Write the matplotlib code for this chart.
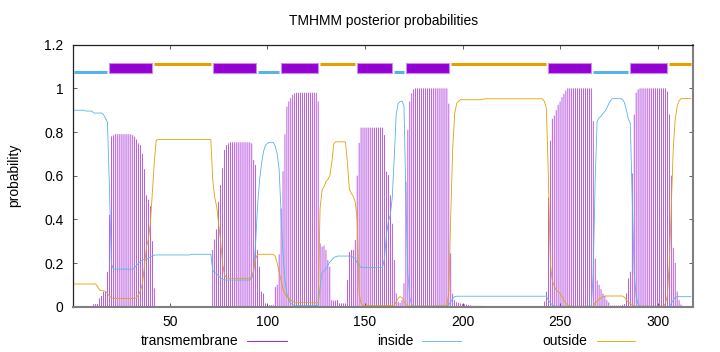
import matplotlib
matplotlib.use("Agg")
import matplotlib.pyplot as plt
import numpy as np
from matplotlib.patches import Rectangle
from matplotlib.lines import Line2D

# posterior probabilities per residue (1..317)
inside = [
    0.900, 0.900, 0.900, 0.900, 0.900, 0.900, 0.896, 0.896, 0.896, 0.896,
    0.887, 0.887, 0.887, 0.887, 0.887, 0.880, 0.862, 0.845, 0.550, 0.200,
    0.172, 0.172, 0.172, 0.172, 0.172, 0.172, 0.172, 0.172, 0.172, 0.172,
    0.172, 0.180, 0.190, 0.200, 0.208, 0.214, 0.216, 0.218, 0.222, 0.228,
    0.233, 0.236, 0.237, 0.237, 0.237, 0.237, 0.237, 0.237, 0.237, 0.237,
    0.237, 0.237, 0.237, 0.237, 0.237, 0.237, 0.237, 0.237, 0.237, 0.237,
    0.240, 0.240, 0.240, 0.240, 0.240, 0.240, 0.240, 0.240, 0.240, 0.240,
    0.240, 0.165, 0.155, 0.152, 0.140, 0.132, 0.125, 0.122, 0.122, 0.122,
    0.122, 0.122, 0.122, 0.122, 0.122, 0.122, 0.122, 0.122, 0.122, 0.122,
    0.122, 0.130, 0.160, 0.300, 0.470, 0.580, 0.656, 0.710, 0.740, 0.748,
    0.753, 0.753, 0.753, 0.735, 0.700, 0.630, 0.430, 0.245, 0.120, 0.060,
    0.030, 0.015, 0.010, 0.005, 0.005, 0.005, 0.005, 0.005, 0.005, 0.005,
    0.005, 0.005, 0.005, 0.005, 0.005, 0.005, 0.090, 0.156, 0.165, 0.172,
    0.190, 0.205, 0.214, 0.225, 0.229, 0.232, 0.232, 0.232, 0.232, 0.232,
    0.232, 0.232, 0.232, 0.225, 0.221, 0.200, 0.190, 0.180, 0.180, 0.180,
    0.180, 0.180, 0.180, 0.180, 0.180, 0.180, 0.180, 0.180, 0.180, 0.220,
    0.330, 0.390, 0.420, 0.500, 0.680, 0.880, 0.930, 0.940, 0.942, 0.920,
    0.500, 0.150, 0.040, 0.010, 0.003, 0.003, 0.003, 0.003, 0.003, 0.003,
    0.003, 0.003, 0.003, 0.003, 0.003, 0.003, 0.003, 0.003, 0.003, 0.003,
    0.003, 0.003, 0.010, 0.023, 0.038, 0.046, 0.048, 0.048, 0.048, 0.048,
    0.048, 0.048, 0.048, 0.048, 0.048, 0.048, 0.048, 0.048, 0.048, 0.048,
    0.048, 0.048, 0.048, 0.048, 0.048, 0.048, 0.048, 0.048, 0.048, 0.048,
    0.048, 0.048, 0.048, 0.048, 0.048, 0.048, 0.048, 0.048, 0.048, 0.048,
    0.048, 0.048, 0.048, 0.048, 0.048, 0.048, 0.048, 0.048, 0.048, 0.048,
    0.048, 0.048, 0.048, 0.030, 0.018, 0.008, 0.002, 0.002, 0.002, 0.002,
    0.002, 0.002, 0.002, 0.002, 0.002, 0.002, 0.002, 0.002, 0.002, 0.002,
    0.002, 0.002, 0.002, 0.002, 0.002, 0.002, 0.150, 0.580, 0.850, 0.865,
    0.872, 0.885, 0.895, 0.910, 0.930, 0.945, 0.953, 0.953, 0.953, 0.953,
    0.953, 0.950, 0.935, 0.900, 0.860, 0.840, 0.500, 0.153, 0.046, 0.012,
    0.002, 0.002, 0.002, 0.002, 0.002, 0.002, 0.002, 0.002, 0.002, 0.002,
    0.002, 0.002, 0.002, 0.002, 0.002, 0.002, 0.015, 0.030, 0.042, 0.046,
    0.046, 0.046, 0.046, 0.046, 0.046, 0.046, 0.046,
]

outside = [
    0.104, 0.104, 0.104, 0.104, 0.104, 0.104, 0.104, 0.104, 0.104, 0.104,
    0.104, 0.104, 0.090, 0.076, 0.073, 0.073, 0.070, 0.061, 0.048, 0.041,
    0.038, 0.038, 0.038, 0.038, 0.038, 0.038, 0.038, 0.038, 0.038, 0.038,
    0.038, 0.038, 0.044, 0.055, 0.075, 0.110, 0.190, 0.275, 0.310, 0.380,
    0.520, 0.660, 0.762, 0.766, 0.766, 0.766, 0.766, 0.766, 0.766, 0.766,
    0.766, 0.766, 0.766, 0.766, 0.766, 0.766, 0.766, 0.766, 0.766, 0.766,
    0.766, 0.766, 0.766, 0.766, 0.766, 0.766, 0.766, 0.766, 0.766, 0.766,
    0.766, 0.580, 0.500, 0.458, 0.380, 0.300, 0.200, 0.145, 0.134, 0.130,
    0.130, 0.130, 0.130, 0.130, 0.130, 0.130, 0.130, 0.130, 0.130, 0.130,
    0.130, 0.140, 0.170, 0.220, 0.240, 0.240, 0.240, 0.240, 0.240, 0.240,
    0.240, 0.240, 0.240, 0.230, 0.200, 0.160, 0.122, 0.080, 0.061, 0.045,
    0.038, 0.030, 0.025, 0.018, 0.018, 0.018, 0.018, 0.018, 0.018, 0.018,
    0.018, 0.018, 0.018, 0.018, 0.018, 0.018, 0.450, 0.534, 0.550, 0.573,
    0.583, 0.600, 0.660, 0.745, 0.756, 0.755, 0.755, 0.755, 0.755, 0.755,
    0.660, 0.540, 0.520, 0.505, 0.480, 0.400, 0.060, 0.015, 0.005, 0.005,
    0.005, 0.005, 0.005, 0.005, 0.005, 0.005, 0.005, 0.005, 0.005, 0.005,
    0.005, 0.005, 0.005, 0.005, 0.005, 0.023, 0.038, 0.046, 0.042, 0.025,
    0.010, 0.003, 0.003, 0.003, 0.003, 0.003, 0.003, 0.003, 0.003, 0.003,
    0.003, 0.003, 0.003, 0.003, 0.003, 0.003, 0.003, 0.003, 0.003, 0.003,
    0.003, 0.003, 0.070, 0.430, 0.730, 0.885, 0.930, 0.942, 0.948, 0.948,
    0.948, 0.948, 0.948, 0.948, 0.948, 0.948, 0.948, 0.948, 0.948, 0.948,
    0.952, 0.952, 0.952, 0.952, 0.952, 0.952, 0.952, 0.952, 0.952, 0.952,
    0.952, 0.952, 0.952, 0.952, 0.952, 0.952, 0.952, 0.952, 0.952, 0.952,
    0.952, 0.952, 0.952, 0.952, 0.952, 0.952, 0.952, 0.952, 0.952, 0.952,
    0.952, 0.940, 0.908, 0.600, 0.200, 0.120, 0.095, 0.076, 0.068, 0.061,
    0.045, 0.030, 0.015, 0.007, 0.002, 0.002, 0.002, 0.002, 0.002, 0.002,
    0.002, 0.002, 0.002, 0.002, 0.002, 0.002, 0.002, 0.018, 0.025, 0.035,
    0.040, 0.046, 0.049, 0.049, 0.049, 0.049, 0.049, 0.049, 0.049, 0.049,
    0.049, 0.049, 0.043, 0.030, 0.020, 0.015, 0.008, 0.002, 0.002, 0.002,
    0.002, 0.002, 0.002, 0.002, 0.002, 0.002, 0.002, 0.002, 0.002, 0.002,
    0.002, 0.002, 0.002, 0.015, 0.050, 0.200, 0.450, 0.720, 0.855, 0.916,
    0.943, 0.953, 0.953, 0.953, 0.953, 0.953, 0.953,
]

transmembrane = [
    0.000, 0.000, 0.000, 0.000, 0.000, 0.003, 0.003, 0.003, 0.003, 0.003,
    0.012, 0.012, 0.012, 0.038, 0.049, 0.069, 0.069, 0.160, 0.420, 0.780,
    0.785, 0.790, 0.790, 0.790, 0.790, 0.790, 0.790, 0.790, 0.790, 0.790,
    0.786, 0.779, 0.766, 0.748, 0.740, 0.700, 0.630, 0.510, 0.490, 0.460,
    0.300, 0.084, 0.000, 0.000, 0.000, 0.000, 0.000, 0.000, 0.000, 0.000,
    0.000, 0.000, 0.000, 0.000, 0.000, 0.000, 0.000, 0.000, 0.000, 0.000,
    0.000, 0.000, 0.000, 0.000, 0.000, 0.000, 0.000, 0.000, 0.000, 0.000,
    0.000, 0.260, 0.308, 0.354, 0.480, 0.557, 0.634, 0.718, 0.740, 0.748,
    0.753, 0.753, 0.753, 0.753, 0.753, 0.753, 0.753, 0.753, 0.753, 0.753,
    0.753, 0.748, 0.672, 0.649, 0.260, 0.183, 0.069, 0.060, 0.015, 0.007,
    0.007, 0.007, 0.007, 0.090, 0.100, 0.240, 0.450, 0.620, 0.790, 0.916,
    0.940, 0.955, 0.970, 0.977, 0.980, 0.980, 0.980, 0.980, 0.980, 0.980,
    0.980, 0.980, 0.980, 0.980, 0.980, 0.940, 0.290, 0.275, 0.280, 0.260,
    0.214, 0.183, 0.030, 0.028, 0.028, 0.030, 0.015, 0.015, 0.015, 0.015,
    0.122, 0.250, 0.260, 0.260, 0.305, 0.600, 0.750, 0.820, 0.820, 0.820,
    0.820, 0.820, 0.820, 0.820, 0.820, 0.820, 0.820, 0.820, 0.820, 0.786,
    0.618, 0.603, 0.510, 0.380, 0.214, 0.061, 0.023, 0.018, 0.030, 0.107,
    0.573, 0.810, 0.940, 0.977, 0.995, 1.000, 1.000, 1.000, 1.000, 1.000,
    1.000, 1.000, 1.000, 1.000, 1.000, 1.000, 1.000, 1.000, 1.000, 1.000,
    1.000, 1.000, 0.930, 0.244, 0.060, 0.030, 0.020, 0.018, 0.015, 0.013,
    0.011, 0.010, 0.008, 0.006, 0.004, 0.004, 0.004, 0.004, 0.004, 0.004,
    0.003, 0.003, 0.003, 0.003, 0.003, 0.003, 0.003, 0.003, 0.003, 0.003,
    0.003, 0.003, 0.003, 0.003, 0.003, 0.003, 0.003, 0.003, 0.000, 0.000,
    0.000, 0.000, 0.000, 0.000, 0.000, 0.000, 0.000, 0.000, 0.000, 0.000,
    0.000, 0.023, 0.069, 0.500, 0.760, 0.860, 0.875, 0.900, 0.925, 0.940,
    0.960, 0.975, 0.990, 1.000, 1.000, 1.000, 1.000, 1.000, 1.000, 1.000,
    1.000, 1.000, 1.000, 1.000, 1.000, 1.000, 0.850, 0.220, 0.120, 0.100,
    0.080, 0.060, 0.050, 0.030, 0.020, 0.005, 0.005, 0.005, 0.005, 0.005,
    0.005, 0.008, 0.012, 0.061, 0.130, 0.160, 0.610, 0.880, 0.980, 0.995,
    1.000, 1.000, 1.000, 1.000, 1.000, 1.000, 1.000, 1.000, 1.000, 1.000,
    1.000, 1.000, 1.000, 1.000, 0.985, 0.880, 0.600, 0.270, 0.200, 0.070,
    0.030, 0.010, 0.000, 0.000, 0.000, 0.000, 0.000,
]

# predicted topology (residue ranges)
tm_start = [19, 72, 107, 146, 171, 244, 286]
tm_end = [41, 94, 126, 164, 193, 266, 305]
in_start = [1, 95, 165, 267]
in_end = [18, 106, 170, 285]
out_start = [42, 127, 194, 306]
out_end = [71, 145, 243, 317]

xticks = [50, 100, 150, 200, 250, 300]
yticks = [0, 0.2, 0.4, 0.6, 0.8, 1.0, 1.2]
ytick_labels = ["0", "0.2", "0.4", "0.6", "0.8", "1", "1.2"]

c_tm = "#9400d3"
c_in = "#56b4e9"
c_out = "#e69f00"

plt.rcParams['font.family'] = ['Liberation Sans', 'DejaVu Sans']
plt.rcParams['font.size'] = 10

res = np.arange(1, len(transmembrane) + 1)

fig = plt.figure(figsize=(7.2, 3.52), dpi=100)
ax = fig.add_axes([0.1018, 0.1287, 0.8603, 0.7443])

ax.vlines(res, 0, transmembrane, colors=c_tm, linewidth=0.45, snap=False)
ax.plot(res, inside, color=c_in, linewidth=0.6)
ax.plot(res, outside, color=c_out, linewidth=0.6)

# topology bar on top
for s, e in zip(tm_start, tm_end):
    ax.add_patch(Rectangle((s, 1.07), e - s, 0.045, facecolor=c_tm,
                           edgecolor="#c88ee6", linewidth=0.8))
ax.hlines([1.073] * len(in_start), in_start, in_end, colors=c_in, linewidth=2.2)
ax.hlines([1.113] * len(out_start), out_start, out_end, colors=c_out, linewidth=2.2)

ax.set_xlim(0.5, 318)
ax.set_ylim(0, 1.2)
ax.set_xticks(xticks)
ax.set_yticks(yticks)
ax.set_yticklabels(ytick_labels)
ax.tick_params(direction="in", length=3, width=0.6, top=True, right=True,
               labelsize=10, color="#444444")
ax.tick_params(axis="y", pad=7)
ax.tick_params(axis="x", pad=6)

for side in ["left", "top"]:
    ax.spines[side].set_color("#222222")
    ax.spines[side].set_linewidth(0.9)
for side in ["right", "bottom"]:
    ax.spines[side].set_color("#7f7f7f")
    ax.spines[side].set_linewidth(1.5)

fig.text(384 / 720, 1 - 21 / 352, "TMHMM posterior probabilities",
         ha="center", va="center", fontsize=10)
fig.text(14 / 720, 1 - 175 / 352, "probability", rotation=90,
         ha="center", va="center", fontsize=10)

# key at the bottom, gnuplot style (text then sample)
key = [("transmembrane", 238, 247, 287, c_tm),
       ("inside", 413, 422, 461, c_in),
       ("outside", 587, 597, 635, c_out)]
ky = 1 - 341 / 352
for label, tx, x0, x1, col in key:
    fig.text(tx / 720, ky, label, ha="right", va="center", fontsize=10)
    fig.add_artist(Line2D([x0 / 720, x1 / 720], [ky, ky], color=col,
                          linewidth=0.6, transform=fig.transFigure))

fig.savefig("out.png", dpi=100)
